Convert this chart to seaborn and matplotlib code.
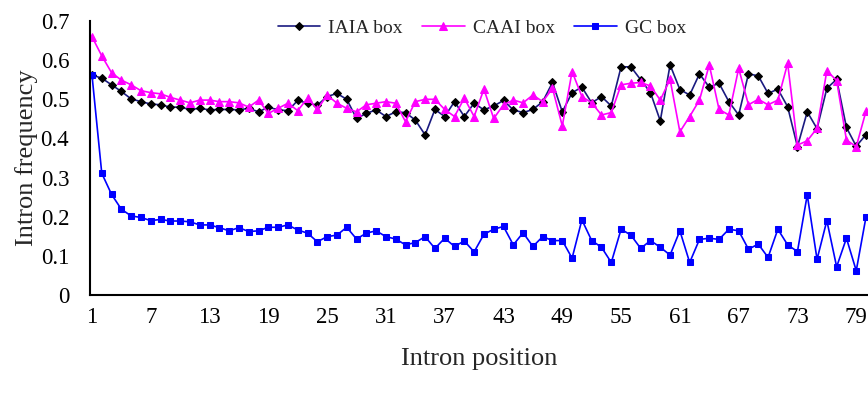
import matplotlib
matplotlib.use("Agg")
import matplotlib.pyplot as plt
import seaborn as sns
import pandas as pd

positions = list(range(1, 81))

iaia = [0.562, 0.554, 0.537, 0.520, 0.501, 0.494, 0.488, 0.486, 0.480, 0.480,
        0.474, 0.477, 0.473, 0.474, 0.474, 0.473, 0.477, 0.468, 0.480, 0.473,
        0.471, 0.497, 0.490, 0.485, 0.507, 0.515, 0.500, 0.451, 0.464, 0.473,
        0.456, 0.468, 0.466, 0.447, 0.409, 0.474, 0.456, 0.494, 0.456, 0.490,
        0.473, 0.483, 0.497, 0.473, 0.466, 0.474, 0.494, 0.543, 0.468, 0.517,
        0.531, 0.491, 0.507, 0.483, 0.583, 0.583, 0.550, 0.517, 0.445, 0.588,
        0.525, 0.511, 0.565, 0.531, 0.541, 0.494, 0.460, 0.565, 0.560, 0.515,
        0.526, 0.481, 0.379, 0.468, 0.425, 0.528, 0.551, 0.428, 0.380, 0.410]

caai = [0.660, 0.611, 0.568, 0.549, 0.537, 0.522, 0.517, 0.514, 0.505, 0.498,
        0.491, 0.498, 0.498, 0.494, 0.494, 0.491, 0.480, 0.498, 0.464, 0.477,
        0.490, 0.471, 0.503, 0.474, 0.511, 0.490, 0.477, 0.468, 0.486, 0.490,
        0.494, 0.490, 0.443, 0.494, 0.500, 0.500, 0.474, 0.456, 0.503, 0.456,
        0.526, 0.451, 0.486, 0.498, 0.491, 0.511, 0.494, 0.528, 0.432, 0.571,
        0.507, 0.491, 0.460, 0.466, 0.537, 0.541, 0.543, 0.534, 0.498, 0.551,
        0.417, 0.456, 0.498, 0.588, 0.474, 0.460, 0.579, 0.486, 0.500, 0.486,
        0.498, 0.592, 0.383, 0.394, 0.426, 0.573, 0.548, 0.396, 0.379, 0.470]

gc = [0.562, 0.311, 0.257, 0.219, 0.202, 0.198, 0.190, 0.193, 0.189, 0.189,
      0.187, 0.179, 0.179, 0.172, 0.164, 0.172, 0.162, 0.164, 0.173, 0.173,
      0.179, 0.166, 0.158, 0.136, 0.149, 0.153, 0.173, 0.143, 0.158, 0.164,
      0.149, 0.143, 0.128, 0.134, 0.149, 0.119, 0.145, 0.124, 0.138, 0.110,
      0.155, 0.168, 0.175, 0.128, 0.159, 0.124, 0.149, 0.139, 0.139, 0.094,
      0.192, 0.139, 0.122, 0.083, 0.168, 0.153, 0.119, 0.139, 0.122, 0.102,
      0.164, 0.083, 0.142, 0.145, 0.142, 0.168, 0.164, 0.117, 0.130, 0.096,
      0.168, 0.128, 0.111, 0.256, 0.091, 0.190, 0.072, 0.145, 0.062, 0.200]

series_names = ["IAIA box", "CAAI box", "GC box"]
x_tick_labels = [str(v) for v in range(1, 80, 6)]
y_ticks = [0, 0.1, 0.2, 0.3, 0.4, 0.5, 0.6, 0.7]
y_tick_labels = ["0", "0.1", "0.2", "0.3", "0.4", "0.5", "0.6", "0.7"]

sns.set_style("white")
plt.rcParams['font.family'] = ['Liberation Serif', 'DejaVu Serif']

fig = plt.figure(figsize=(8.68, 3.97), dpi=100)
ax = fig.add_axes([0.1037, 0.257, 0.8963, 0.690])

df = pd.DataFrame({"pos": positions, "IAIA box": iaia, "CAAI box": caai, "GC box": gc})

sns.lineplot(data=df, x="pos", y="IAIA box", ax=ax, color="#1a1a80", lw=1.2,
             marker="D", markersize=4.5, markerfacecolor="black", markeredgecolor="black",
             label=series_names[0])
sns.lineplot(data=df, x="pos", y="CAAI box", ax=ax, color="#ff00ff", lw=1.2,
             marker="^", markersize=5.5, markerfacecolor="#ff00ff", markeredgecolor="#ff00ff",
             label=series_names[1])
sns.lineplot(data=df, x="pos", y="GC box", ax=ax, color="#0000ff", lw=1.2,
             marker="s", markersize=5, markerfacecolor="#0000ff", markeredgecolor="#0000ff",
             label=series_names[2])

ax.set_xlim(0.8, 80.2)
ax.set_ylim(0, 0.7)
ax.set_xticks(list(range(1, 80, 6)))
ax.set_xticklabels(x_tick_labels, fontsize=16.5)
ax.set_yticks(y_ticks)
ax.set_yticklabels(y_tick_labels, fontsize=16.5)
ax.tick_params(axis="y", direction="in", length=6, width=1.2, pad=15, colors="black")
ax.tick_params(axis="x", direction="out", length=5, width=1.2, pad=4, colors="black")

for s in ["top", "right"]:
    ax.spines[s].set_visible(False)
for s in ["left", "bottom"]:
    ax.spines[s].set_color("black")
    ax.spines[s].set_linewidth(1.5)

ax.set_xlabel("Intron position", fontsize=19, labelpad=14)
ax.set_ylabel("Intron frequency", fontsize=19, labelpad=2)
ax.set_facecolor("white")

leg = ax.legend(loc="center", bbox_to_anchor=(0.555, 0.93), bbox_transform=fig.transFigure,
                ncol=3, frameon=False, fontsize=14, handlelength=2.2, columnspacing=1.0,
                handletextpad=0.4)

fig.savefig("out.png", dpi=100, facecolor="white")
